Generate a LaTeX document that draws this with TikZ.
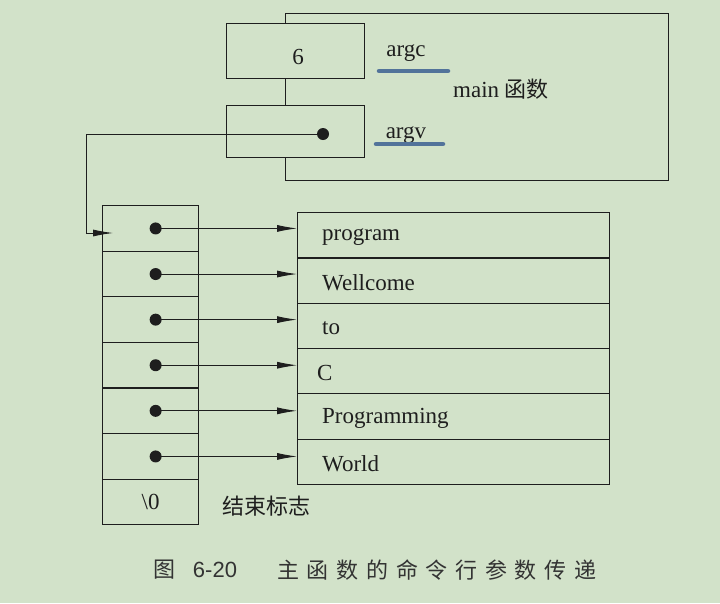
\documentclass[tikz,border=0pt]{standalone}
\usepackage{fontspec}
\setmainfont{Liberation Serif}
\newfontfamily\cjk{Noto Sans CJK SC}
\newfontfamily\cjkcap[LetterSpace=35]{Noto Sans CJK SC}
\newfontfamily\capsans{Liberation Sans}
\usetikzlibrary{arrows.meta}
\definecolor{bg}{HTML}{D2E2C9}
\definecolor{ink}{HTML}{1E1E1E}
\definecolor{markc}{HTML}{52739A}
\definecolor{capc}{HTML}{333333}
\tikzset{
  box/.style={draw=ink, line width=1.25pt, fill=bg, inner sep=0pt, anchor=north west},
  cell/.style={box, minimum width=96pt, minimum height=45.6pt},
  scell/.style={box, minimum width=312pt, minimum height=45.3pt},
  dot/.style={circle, fill=ink, inner sep=0pt, minimum size=12pt},
  arr/.style={draw=ink, line width=0.9pt, -{Latex[length=20pt,width=7pt]}},
  txt/.style={font=\fontsize{23}{26}\selectfont, text=ink, inner sep=0pt},
  ctxt/.style={font=\fontsize{22}{26}\selectfont\cjk, text=ink, inner sep=0pt},
  markline/.style={draw=markc, line width=4.5pt, line cap=round},
}
\begin{document}
\begin{tikzpicture}[x=1pt,y=-1pt]
\fill[bg] (0,0) rectangle (720,603);
\useasboundingbox (0,0) rectangle (720,603);
% main function frame
\node[box, minimum width=383pt, minimum height=167pt] (mainf) at (285,13) {};
\node[box, minimum width=138pt, minimum height=55pt] (argc) at (226,23) {};
\node[box, minimum width=138pt, minimum height=52pt] (argv) at (226,105) {};
\node[txt] (six) at (298,57) {6};
\node[dot] (vdot) at (323,134) {};
\node[txt, anchor=base] (argcl) at (406,56) {argc};
\node[txt, anchor=base] (argvl) at (406,138) {argv};
\draw[markline] (379,71) -- (448,71);
\draw[markline] (376,144) -- (443,144);
\node[txt, anchor=base west] (mainl) at (453,97) {main \cjk\fontsize{22}{26}\selectfont 函数};
% pointer array
\foreach \i in {1,...,7} {
  \node[cell] (c\i) at (102,{205+45.6*(\i-1)}) {};
}
\node[txt] (nul) at (c7.center) {\textbackslash 0};
\node[ctxt, anchor=west] (endl) at (222,506) {结束标志};
% strings
\foreach \i in {1,...,6} {
  \node[scell] (s\i) at (297,{212+45.3*(\i-1)}) {};
}
\node[txt, anchor=west] (t1) at ([xshift=25pt,yshift=-2pt]s1.west) {program};
\node[txt, anchor=west] (t2) at ([xshift=25pt,yshift=-2pt]s2.west) {Wellcome};
\node[txt, anchor=west] (t3) at ([xshift=25pt,yshift=-2pt]s3.west) {to};
\node[txt, anchor=west] (t4) at ([xshift=20pt,yshift=-2pt]s4.west) {C};
\node[txt, anchor=west] (t5) at ([xshift=25pt,yshift=-2pt]s5.west) {Programming};
\node[txt, anchor=west] (t6) at ([xshift=25pt,yshift=-2pt]s6.west) {World};
\foreach \i in {1,...,6} {
  \node[dot] (d\i) at ([xshift=5pt]c\i.center) {};
  \draw[arr] (d\i.center) -- (d\i.center -| s\i.west);
}
% argv pointer
\coordinate (ain) at (113,233);
\draw[arr] (vdot.center) -| (86,233) -- (ain);
% caption
\node[font=\fontsize{22}{26}\selectfont\cjk, text=capc, inner sep=0pt] (cap1) at (164,570) {图};
\node[font=\fontsize{22}{26}\selectfont\capsans, text=capc, inner sep=0pt] (cap2) at (215,570) {6-20};
\node[font=\fontsize{22}{26}\selectfont\cjkcap, text=capc, inner sep=0pt, anchor=west] (cap3) at (277,570) {主函数的命令行参数传递};
\end{tikzpicture}
\end{document}
